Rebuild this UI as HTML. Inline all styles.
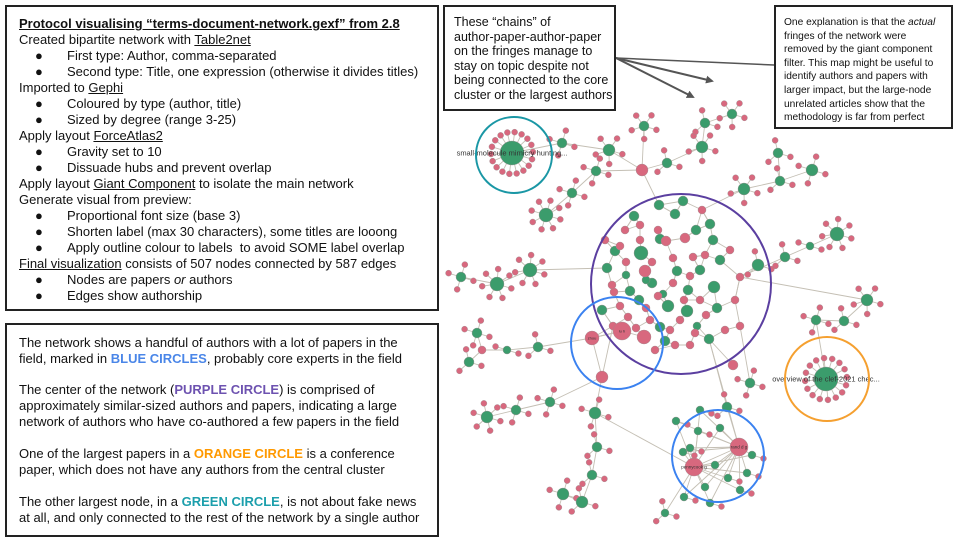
<!DOCTYPE html>
<html><head><meta charset="utf-8">
<style>
body{margin:0;width:960px;height:540px;background:#fff;position:relative;overflow:hidden;font-family:"Liberation Sans",sans-serif;color:#111}
.box{position:absolute;border:2px solid #222;box-sizing:border-box;background:#fff}
.b{position:absolute;left:29px;font-size:13px;line-height:16px}
u{text-decoration:underline}
svg{position:absolute;left:0;top:0}
</style></head><body>
<svg id="net" width="960" height="540"></svg>

<div class="box" style="left:5px;top:5px;width:434px;height:306px;">
<div style="position:absolute;left:12px;top:9px;font-size:13px;line-height:16px;">
<div style="font-weight:bold;text-decoration:underline">Protocol visualising “terms-document-network.gexf” from 2.8</div>
<div>Created bipartite network with <u>Table2net</u></div>
<div style="padding-left:48px;position:relative"><span class="b" style="left:16px">●</span>First type: Author, comma-separated</div>
<div style="padding-left:48px;position:relative"><span class="b" style="left:16px">●</span>Second type: Title, one expression (otherwise it divides titles)</div>
<div>Imported to <u>Gephi</u></div>
<div style="padding-left:48px;position:relative"><span class="b" style="left:16px">●</span>Coloured by type (author, title)</div>
<div style="padding-left:48px;position:relative"><span class="b" style="left:16px">●</span>Sized by degree (range 3-25)</div>
<div>Apply layout <u>ForceAtlas2</u></div>
<div style="padding-left:48px;position:relative"><span class="b" style="left:16px">●</span>Gravity set to 10</div>
<div style="padding-left:48px;position:relative"><span class="b" style="left:16px">●</span>Dissuade hubs and prevent overlap</div>
<div>Apply layout <u>Giant Component</u> to isolate the main network</div>
<div>Generate visual from preview:</div>
<div style="padding-left:48px;position:relative"><span class="b" style="left:16px">●</span>Proportional font size (base 3)</div>
<div style="padding-left:48px;position:relative"><span class="b" style="left:16px">●</span>Shorten label (max 30 characters), some titles are looong</div>
<div style="padding-left:48px;position:relative"><span class="b" style="left:16px">●</span>Apply outline colour to labels&nbsp; to avoid SOME label overlap</div>
<div><u>Final visualization</u> consists of 507 nodes connected by 587 edges</div>
<div style="padding-left:48px;position:relative"><span class="b" style="left:16px">●</span>Nodes are papers <i>or</i> authors</div>
<div style="padding-left:48px;position:relative"><span class="b" style="left:16px">●</span>Edges show authorship</div>
</div></div>

<div class="box" style="left:5px;top:323px;width:434px;height:214px;">
<div style="position:absolute;left:12px;top:10px;font-size:13px;line-height:16px;">
<div>The network shows a handful of authors with a lot of papers in the</div>
<div>field, marked in <b style="color:#4a86e8">BLUE CIRCLES</b>, probably core experts in the field</div>
<div style="height:15px"></div>
<div>The center of the network (<b style="color:#6d52b0">PURPLE CIRCLE</b>) is comprised of</div>
<div>approximately similar-sized authors and papers, indicating a large</div>
<div>network of authors who have co-authored a few papers in the field</div>
<div style="height:16px"></div>
<div>One of the largest papers in a <b style="color:#ff9900">ORANGE CIRCLE</b> is a conference</div>
<div>paper, which does not have any authors from the central cluster</div>
<div style="height:16px"></div>
<div>The other largest node, in a <b style="color:#1c9fac">GREEN CIRCLE</b>, is not about fake news</div>
<div>at all, and only connected to the rest of the network by a single author</div>
</div></div>

<div class="box" style="left:443px;top:5px;width:173px;height:106px;">
<div style="position:absolute;left:9px;top:8px;font-size:12.5px;line-height:14.5px;">These “chains” of<br>author-paper-author-paper<br>on the fringes manage to<br>stay on topic despite not<br>being connected to the core<br>cluster or the largest authors</div></div>

<div class="box" style="left:774px;top:5px;width:179px;height:124px;">
<div style="position:absolute;left:8px;top:9px;font-size:10.2px;line-height:13.6px;">One explanation is that the <i>actual</i><br>fringes of the network were<br>removed by the giant component<br>filter. This map might be useful to<br>identify authors and papers with<br>larger impact, but the large-node<br>unrelated articles show that the<br>methodology is far from perfect</div></div>

<script>
// Hub nodes (clusters on the fringes)
const hubX=[512,562,609,642,596,572,546,644,667,702,705,732,744,780,812,778,837,810,785,758,530,497,461,592,622,644,602,477,482,507,538,469,487,516,550,595,597,592,582,563,739,694,727,750,733,826,816,844,867,665,676,698,720,690,715,728,747,740,705,684,710,752,683,700];
const hubY=[153,143,150,170,171,193,215,126,163,147,123,114,189,181,170,153,234,246,257,265,270,284,277,338,331,337,377,333,350,350,347,362,417,410,402,413,447,475,502,494,447,467,407,383,365,379,320,321,300,513,421,431,428,448,465,478,473,490,487,497,503,455,452,410];
const hubR=[12,5,6,6,5,5,7,5,5,6,5,5,6,5,6,5,7,4,5,6,7,7,5,7,9,7,6,5,4,4,5,5,6,5,5,6,5,5,6,6,9,9,5,5,5,12,5,5,6,4,4,4,4,4,4,4,4,4,4,4,4,4,4,4];
const hubType=["a","a","a","p","a","a","a","a","a","a","a","a","a","a","a","a","a","a","a","a","a","a","a","p","p","p","p","a","p","a","a","a","a","a","a","a","a","a","a","a","p","p","a","a","p","a","a","a","a","a","a","a","a","a","a","a","a","a","a","a","a","a","a","a"];
const hubLeaves=[18,4,5,0,4,4,8,5,3,5,3,5,5,3,4,3,7,2,3,3,7,7,4,0,0,0,0,4,0,2,3,3,6,4,4,4,3,3,3,4,0,0,3,4,0,16,4,3,5,3,1,1,0,1,0,1,1,1,0,1,1,1,1,1];
const hubParent=[1,2,3,-1,3,4,5,3,3,8,9,10,-1,12,13,13,17,18,-1,-1,-1,20,21,-1,-1,-1,-1,28,29,30,23,28,33,34,26,26,35,36,37,38,-1,40,-1,-1,-1,46,47,48,-1,41,40,40,40,40,40,40,40,40,41,41,41,40,41,40];
const hubParent2=[-1,-1,-1,-1,-1,-1,-1,-1,-1,-1,-1,-1,-1,-1,-1,-1,-1,-1,-1,-1,-1,-1,-1,24,23,24,23,-1,-1,-1,-1,-1,-1,-1,-1,-1,-1,-1,-1,-1,42,35,-1,-1,-1,-1,-1,-1,-1,-1,41,41,41,41,41,41,41,41,40,40,40,41,40,41];
// Core nodes (central cluster)
const coreX=[641,660,696,713,668,687,714,700,677,607,615,634,659,675,630,652,688,663,639,660,709,717,710,646,626,602,665,697,720,683,645,666,685,658,640,620,626,652,673,693,705,690,673,658,646,628,614,620,684,700,706,695,680,670,650,636,613,725,735,740,730,640,625,702,675,690,655,740,605,612];
const coreY=[253,239,230,240,306,311,287,270,271,268,251,216,205,214,291,283,290,294,300,327,339,308,224,280,275,310,341,326,260,201,271,241,238,230,240,246,262,262,258,257,255,276,283,296,308,317,292,306,300,300,315,333,320,330,320,328,326,330,300,277,250,225,230,210,345,345,350,326,240,285];
const coreR=[7,5,5,5,6,6,6,5,5,5,5,5,5,5,5,5,5,4,5,5,5,5,5,4,4,5,5,4,5,5,6,5,5,4,4,4,4,4,4,4,4,4,4,4,4,4,4,4,4,4,4,4,4,4,4,4,4,4,4,4,4,4,4,4,4,4,4,4,4,4];
const coreType=["a","a","a","a","a","a","a","a","a","a","a","a","a","a","a","a","a","a","a","a","a","a","a","a","a","a","a","a","a","a","p","p","p","p","p","p","p","p","p","p","p","p","p","p","p","p","p","p","p","p","p","p","p","p","p","p","p","p","p","p","p","p","p","p","p","p","p","p","p","p"];
// Highlight circles
const ringX=[514,681,617,718,827];
const ringY=[155,284,343,456,379];
const ringR=[38,90,46,46,42];
const ringColor=["#1a97a5","#5b3fa0","#3b82f0","#3b82f0","#f5a030"];
const ringName=["green-circle","purple-circle","blue-circle-1","blue-circle-2","orange-circle"];
// Node labels
const labelText=["small-molecule mimicry hunting...","overview of the clef-2021 chec...","lu h","zhou","pennycook g","rand d g"];
const labelHub=[0,45,24,23,41,40];
const labelSize=[7.5,7.5,4,4,4.5,4.5];

const NS="http://www.w3.org/2000/svg";
const svg=document.getElementById('net');
const gE=document.createElementNS(NS,'g'),gN=document.createElementNS(NS,'g'),gL=document.createElementNS(NS,'g'),gR=document.createElementNS(NS,'g'),gA=document.createElementNS(NS,'g');
svg.appendChild(gE);svg.appendChild(gN);svg.appendChild(gL);svg.appendChild(gR);svg.appendChild(gA);
const GREEN="#3b9c6c",PINK="#d8687e";
function edge(x1,y1,x2,y2){
  const l=document.createElementNS(NS,'line');
  l.setAttribute('x1',x1);l.setAttribute('y1',y1);l.setAttribute('x2',x2);l.setAttribute('y2',y2);
  l.setAttribute('stroke','#c4bfb4');l.setAttribute('stroke-width','0.9');
  
  
  gE.appendChild(l);
}
function node(x,y,r,t){
  const c=document.createElementNS(NS,'circle');
  c.setAttribute('cx',x);c.setAttribute('cy',y);c.setAttribute('r',r);
  c.setAttribute('fill',t==="a"?GREEN:PINK);c.setAttribute('stroke','#9a8a8e');c.setAttribute('stroke-width','0.4');
  
  
  gN.appendChild(c);
}
function nearestCore(x,y,skip){
  let b=-1,bd=1e9;
  for(let i=0;i<coreX.length;i++){if(i===skip)continue;const d=(coreX[i]-x)**2+(coreY[i]-y)**2;if(d<bd){bd=d;b=i;}}
  return b;
}
for(let i=0;i<coreX.length;i++){
  const ds=[];
  for(let j=0;j<coreX.length;j++){if(j!==i)ds.push([(coreX[j]-coreX[i])**2+(coreY[j]-coreY[i])**2,j]);}
  ds.sort((a,b)=>a[0]-b[0]);
  for(let k=0;k<2;k++){const j=ds[k][1];edge(coreX[i],coreY[i],coreX[j],coreY[j]);}
}
const leafPos=[];
for(let i=0;i<hubX.length;i++){
  const ps=[hubParent[i],hubParent2[i]];
  ps.forEach((p,k)=>{
    if(p>=0) edge(hubX[i],hubY[i],hubX[p],hubY[p]);
    else if(k===0){const c=nearestCore(hubX[i],hubY[i],-1);edge(hubX[i],hubY[i],coreX[c],coreY[c]);}
  });
  const n=hubLeaves[i];
  const dist=hubR[i]+(hubR[i]>10?9:8);
  for(let j=0;j<n;j++){
    const a=(j/n)*Math.PI*2+0.3;
    const lx=hubX[i]+Math.cos(a)*dist,ly=hubY[i]+Math.sin(a)*dist;
    edge(hubX[i],hubY[i],lx,ly);
    leafPos.push([lx,ly,hubType[i]==="a"?"p":"a"]);
  }
}
for(let i=0;i<coreX.length;i++) node(coreX[i],coreY[i],coreR[i],coreType[i]);
leafPos.forEach(p=>node(p[0],p[1],3,p[2]));
for(let i=0;i<hubX.length;i++) node(hubX[i],hubY[i],hubR[i],hubType[i]);
for(let i=0;i<labelText.length;i++){
  const t=document.createElementNS(NS,'text');
  const h=labelHub[i];
  t.setAttribute('x',hubX[h]);t.setAttribute('y',hubY[h]+labelSize[i]*0.35);
  t.setAttribute('text-anchor','middle');t.setAttribute('font-size',labelSize[i]);
  t.setAttribute('font-family','Liberation Sans, sans-serif');t.setAttribute('fill','#333');
  t.textContent=labelText[i];
  
  
  gL.appendChild(t);
}
for(let i=0;i<ringX.length;i++){
  const c=document.createElementNS(NS,'circle');
  c.setAttribute('cx',ringX[i]);c.setAttribute('cy',ringY[i]);c.setAttribute('r',ringR[i]);
  c.setAttribute('fill','none');c.setAttribute('stroke',ringColor[i]);c.setAttribute('stroke-width','2');
  
  
  gR.appendChild(c);
}
gA.innerHTML='<defs><marker id="ah" markerWidth="8" markerHeight="8" refX="6" refY="4" orient="auto" markerUnits="userSpaceOnUse"><path d="M0,0 L8,4 L0,8 z" fill="#555"/></marker></defs>'+
'<line x1="616" y1="58" x2="712" y2="81" stroke="#555" stroke-width="2" marker-end="url(#ah)"/>'+
'<line x1="616" y1="58" x2="693" y2="97" stroke="#555" stroke-width="2" marker-end="url(#ah)"/>'+
'<line x1="616" y1="58" x2="774" y2="65" stroke="#555" stroke-width="1.5"/>';
</script>
</body></html>
